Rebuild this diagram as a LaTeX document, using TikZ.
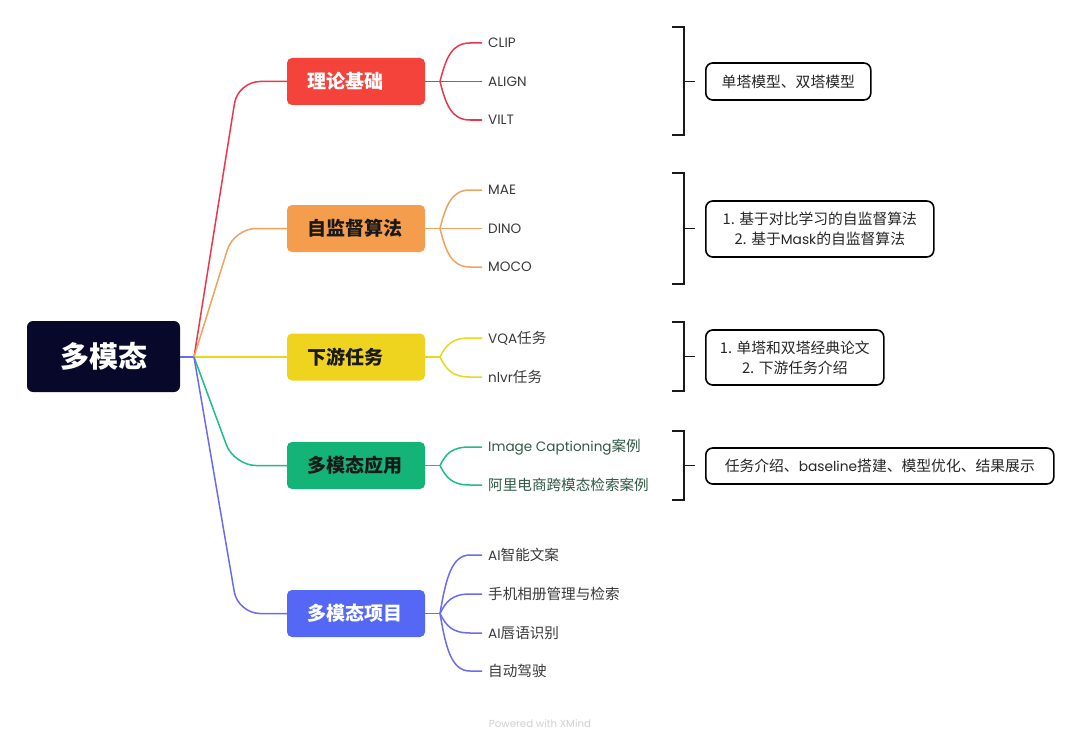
\documentclass[tikz,border=0pt]{standalone}
\usepackage{fontspec}
\setmainfont{Noto Sans CJK SC}
\newfontfamily\lat[Scale=0.93]{Poppins}
\definecolor{rootc}{HTML}{08082A}
\definecolor{redc}{HTML}{F4433B}
\definecolor{redl}{HTML}{E8384F}
\definecolor{orac}{HTML}{F49D4C}
\definecolor{oral}{HTML}{F0A35E}
\definecolor{yelc}{HTML}{EED31F}
\definecolor{yell}{HTML}{E6D81E}
\definecolor{grec}{HTML}{14B479}
\definecolor{grel}{HTML}{1DBE88}
\definecolor{bluc}{HTML}{5568F5}
\definecolor{blul}{HTML}{6A6CF0}
\definecolor{leafc}{HTML}{3A3A3A}
\definecolor{gleaf}{HTML}{2F5A45}
\begin{document}
\begin{tikzpicture}[x=1pt,y=-1pt,
  rootbox/.style={rectangle, rounded corners=6pt, fill=rootc, minimum width=153pt, minimum height=71pt, text=white, font=\fontsize{29}{29}\selectfont\bfseries},
  topic/.style={rectangle, rounded corners=5pt, inner xsep=20pt, text width=98pt, align=left, minimum height=47pt, font=\fontsize{19}{19}\selectfont\bfseries},
  leaf/.style={anchor=west, inner sep=0pt, font=\fontsize{14.6}{16}\selectfont, text=leafc},
  sumbox/.style={draw=black, line width=1.6pt, rounded corners=7pt, fill=white, align=center, anchor=west, inner sep=0pt, font=\fontsize{14.8}{20}\selectfont, text=black!85},
  br/.style={line width=1.5pt},
  bracket/.style={draw=black!90, line width=1.6pt}
]
\useasboundingbox[fill=white] (0,0) rectangle (1080,752);

% root and topics
\node[rootbox] (root) at (103.5,356.5) {多模态};
\node[topic, fill=redc, text=white] (t1) at (356,81.5) {理论基础};
\node[topic, fill=orac, text=black!90] (t2) at (356,228.5) {自监督算法};
\node[topic, fill=yelc, text=black!90] (t3) at (356,357) {下游任务};
\node[topic, fill=grec, text=black!90] (t4) at (356,465.5) {多模态应用};
\node[topic, fill=bluc, text=white] (t5) at (356,613.5) {多模态项目};

\coordinate (j) at (194,357);
\draw[br, blul] (root.east |- j) -- (j);
\draw[br, redl, rounded corners=22pt] (j) -- (238,81.5) -- (t1.west);
\draw[br, oral, rounded corners=22pt] (j) -- (234,228.5) -- (t2.west);
\draw[br, yell] (j) -- (t3.west);
\draw[br, grel, rounded corners=22pt] (j) -- (234,465.5) -- (t4.west);
\draw[br, blul, rounded corners=22pt] (j) -- (238,613.5) -- (t5.west);

% leaves
\node[leaf] (l11) at (488,43) {\lat CLIP};
\node[leaf] (l12) at (488,81.5) {\lat ALIGN};
\node[leaf] (l13) at (488,120) {\lat VILT};
\node[leaf] (l21) at (488,190) {\lat MAE};
\node[leaf] (l22) at (488,228.5) {\lat DINO};
\node[leaf] (l23) at (488,267) {\lat MOCO};
\node[leaf] (l31) at (488,338) {{\lat VQA}任务};
\node[leaf] (l32) at (488,377) {{\lat nlvr}任务};
\node[leaf, text=gleaf] (l41) at (488,447) {{\lat Image Captioning}案例};
\node[leaf, text=gleaf] (l42) at (488,485) {阿里电商跨模态检索案例};
\node[leaf] (l51) at (488,555) {{\lat AI}智能文案};
\node[leaf] (l52) at (488,594) {手机相册管理与检索};
\node[leaf] (l53) at (488,633) {{\lat AI}唇语识别};
\node[leaf] (l54) at (488,671) {自动驾驶};

% red children
\coordinate (c1) at (440,81.5);
\draw[br, redl] (t1.east) -- (c1);
\draw[br, redl] (c1) .. controls +(6,-24) and +(-18,0) .. ([xshift=-18pt]l11.west) -- ([xshift=-6pt]l11.west);
\draw[br, redl] (c1) -- ([xshift=-6pt]l12.west);
\draw[br, redl] (c1) .. controls +(6,24) and +(-18,0) .. ([xshift=-18pt]l13.west) -- ([xshift=-6pt]l13.west);
% orange children
\coordinate (c2) at (440,228.5);
\draw[br, oral] (t2.east) -- (c2);
\draw[br, oral] (c2) .. controls +(6,-24) and +(-18,0) .. ([xshift=-18pt]l21.west) -- ([xshift=-6pt]l21.west);
\draw[br, oral] (c2) -- ([xshift=-6pt]l22.west);
\draw[br, oral] (c2) .. controls +(6,24) and +(-18,0) .. ([xshift=-18pt]l23.west) -- ([xshift=-6pt]l23.west);
% yellow children
\coordinate (c3) at (440,357);
\draw[br, yell] (t3.east) -- (c3);
\draw[br, yell] (c3) .. controls +(6,-12) and +(-18,0) .. ([xshift=-18pt]l31.west) -- ([xshift=-6pt]l31.west);
\draw[br, yell] (c3) .. controls +(6,12) and +(-18,0) .. ([xshift=-18pt]l32.west) -- ([xshift=-6pt]l32.west);
% green children
\coordinate (c4) at (440,465.5);
\draw[br, grel] (t4.east) -- (c4);
\draw[br, grel] (c4) .. controls +(6,-12) and +(-18,0) .. ([xshift=-18pt]l41.west) -- ([xshift=-6pt]l41.west);
\draw[br, grel] (c4) .. controls +(6,12) and +(-18,0) .. ([xshift=-18pt]l42.west) -- ([xshift=-6pt]l42.west);
% blue children
\coordinate (c5) at (440,613.5);
\draw[br, blul] (t5.east) -- (c5);
\draw[br, blul] (c5) .. controls +(6,-36) and +(-18,0) .. ([xshift=-18pt]l51.west) -- ([xshift=-6pt]l51.west);
\draw[br, blul] (c5) .. controls +(6,-12) and +(-18,0) .. ([xshift=-18pt]l52.west) -- ([xshift=-6pt]l52.west);
\draw[br, blul] (c5) .. controls +(6,12) and +(-18,0) .. ([xshift=-18pt]l53.west) -- ([xshift=-6pt]l53.west);
\draw[br, blul] (c5) .. controls +(6,36) and +(-18,0) .. ([xshift=-18pt]l54.west) -- ([xshift=-6pt]l54.west);

% brackets
\draw[bracket] (672,27) -- (684,27) -- (684,135) -- (672,135);
\draw[bracket] (684,81.5) -- (695,81.5);
\draw[bracket] (672,173) -- (684,173) -- (684,284) -- (672,284);
\draw[bracket] (684,228.5) -- (695,228.5);
\draw[bracket] (672,322) -- (684,322) -- (684,391) -- (672,391);
\draw[bracket] (684,356.5) -- (695,356.5);
\draw[bracket] (672,431) -- (684,431) -- (684,500) -- (672,500);
\draw[bracket] (684,465.5) -- (695,465.5);

% summaries
\node[sumbox, minimum width=165pt, minimum height=37pt] (s1) at (705,81.5) {单塔模型、双塔模型};
\node[sumbox, minimum width=228pt, minimum height=56pt] (s2) at (705,229) {1. 基于对比学习的自监督算法\\2. 基于{\lat Mask}的自监督算法};
\node[sumbox, minimum width=178pt, minimum height=55pt] (s3) at (705,357.5) {1. 单塔和双塔经典论文\\2. 下游任务介绍};
\node[sumbox, minimum width=348pt, minimum height=36pt] (s4) at (705,466) {任务介绍、{\lat baseline}搭建、模型优化、结果展示};

% watermark
\node[font=\fontsize{11}{11}\selectfont, text=black!18] (wm) at (540,724) {\lat Powered with XMind};
\end{tikzpicture}
\end{document}
